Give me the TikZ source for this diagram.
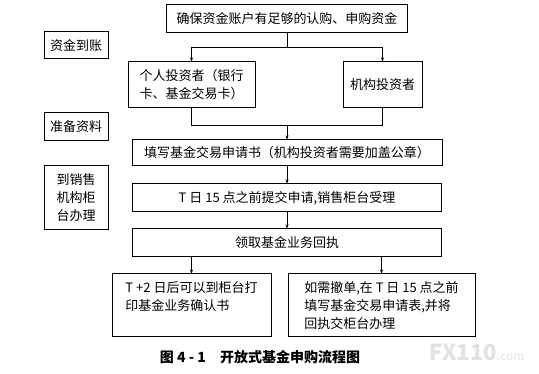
\documentclass[tikz,border=0pt]{standalone}
\usepackage{fontspec}
\setmainfont{Noto Sans CJK SC}
\usepackage{tikz}
\usetikzlibrary{arrows.meta,positioning,calc}
\definecolor{MarkGray}{HTML}{E2E2E2}

\begin{document}
\begin{tikzpicture}[x=1pt,y=-1pt,
    box/.style={draw,line width=1pt,inner sep=0pt,align=center,
      font=\fontsize{13}{18}\selectfont},
    tag/.style={box,minimum width=64pt},
    link/.style={line width=0.6pt},
    flow/.style={link,-{Stealth[length=4pt,width=3pt]}}]
  \useasboundingbox (0,0) rectangle (539,374);
  \node[box,minimum width=241pt,minimum height=28pt] (fund) at (287,19) {确保资金账户有足够的认购、申购资金};
  \node[tag,minimum height=27pt] (tagfund) at (76,45.5) {资金到账};
  \node[tag,minimum height=28pt] (tagdoc) at (76,127) {准备资料};
  \node[tag,minimum height=64pt] (tagdesk) at (76,198) {到销售\\机构柜\\台办理};
  \node[box,minimum width=127pt,minimum height=46pt,align=left] (person) at (191.5,85) {个人投资者（银行\\卡、基金交易卡）};
  \node[box,minimum width=79pt,minimum height=46pt] (inst) at (382.5,85) {机构投资者};
  \node[box,minimum width=310pt,minimum height=26pt] (form) at (287,153) {填写基金交易申请书（机构投资者需要加盖公章）};
  \node[box,minimum width=309pt,minimum height=28pt] (submit) at (287,198) {T 日 15 点之前提交申请,销售柜台受理};
  \node[box,minimum width=309pt,minimum height=28pt] (receipt) at (287,243) {领取基金业务回执};
  \node[box,minimum width=159pt,minimum height=63pt,align=left] (confirm) at (191.5,305.5) {T +2 日后可以到柜台打\\印基金业务确认书\\\phantom{印}};
  \node[box,minimum width=187pt,minimum height=63pt,align=left] (cancel) at (381.5,305.5) {如需撤单,在 T 日 15 点之前\\填写基金交易申请表,并将\\回执交柜台办理};
  \node[font=\fontsize{14}{16}\selectfont\bfseries] (title) at (260,357) {图 4 - 1\quad 开放式基金申购流程图};
  \node[text=MarkGray,anchor=east] (mark) at (528,352) {{\fontsize{22}{22}\selectfont\bfseries FX110}{\fontsize{12}{12}\selectfont .com}};
  \coordinate (split) at (287,47);
  \coordinate (merge) at (287,125);
  \draw[link] (fund.south) -- (split);
  \draw[flow] (split) -| (person.north);
  \draw[flow] (split) -| (inst.north);
  \draw[link] (person.south) |- (merge);
  \draw[link] (inst.south) |- (merge);
  \draw[flow] (merge) -- (form.north);
  \draw[flow] (form) -- (submit);
  \draw[flow] (submit) -- (receipt);
  \draw[flow] (receipt.south -| confirm.north) -- (confirm.north);
  \draw[flow] (receipt.south -| cancel.north) -- (cancel.north);
\end{tikzpicture}
\end{document}
